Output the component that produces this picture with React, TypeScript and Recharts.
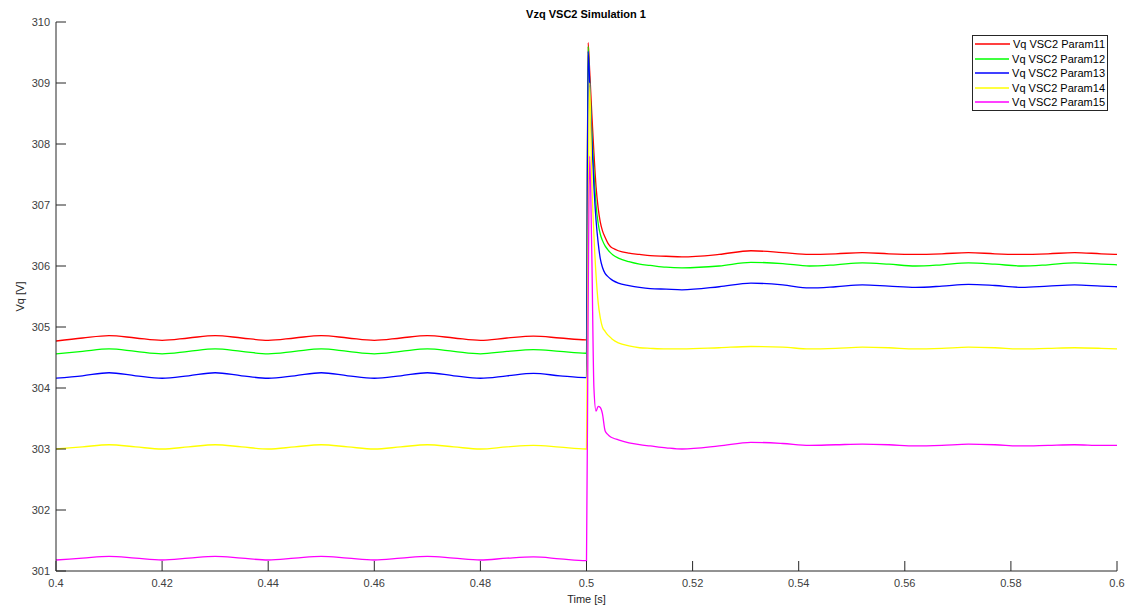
import { LineChart, Line, XAxis, YAxis, Legend } from 'recharts';

// time axis [s], dense around the 0.5 s step
const time = [
  0.4, 0.405, 0.41, 0.415, 0.42, 0.425, 0.43, 0.435, 0.44, 0.445, 0.45, 0.455, 0.46, 0.465, 0.47, 0.475, 0.48, 0.485, 0.49, 0.495, 0.4999,
  0.5, 0.5003, 0.5006, 0.501, 0.5014, 0.5018, 0.5022, 0.5026, 0.503, 0.5035, 0.504, 0.5045, 0.505, 0.506, 0.508, 0.51, 0.512, 0.515,
  0.518, 0.525, 0.531, 0.537, 0.542, 0.547, 0.552, 0.557, 0.562, 0.567, 0.572, 0.577, 0.582, 0.587, 0.592, 0.597, 0.6
];

const param11 = [
  304.77, 304.82, 304.86, 304.82, 304.78, 304.82, 304.86, 304.82, 304.78, 304.82, 304.86, 304.82, 304.78, 304.82, 304.86, 304.82, 304.78, 304.82, 304.85, 304.82, 304.79,
  304.8, 309.66, 309.2, 308.5, 307.85, 307.3, 306.95, 306.72, 306.58, 306.47, 306.38, 306.32, 306.29, 306.25, 306.21, 306.19, 306.17, 306.16,
  306.15, 306.19, 306.25, 306.22, 306.19, 306.2, 306.22, 306.2, 306.19, 306.2, 306.22, 306.2, 306.19, 306.2, 306.22, 306.2, 306.19
];

const param12 = [
  304.56, 304.6, 304.64, 304.6, 304.56, 304.6, 304.64, 304.6, 304.56, 304.6, 304.64, 304.6, 304.56, 304.6, 304.64, 304.6, 304.56, 304.6, 304.63, 304.6, 304.57,
  304.57, 309.6, 309.0, 308.2, 307.55, 307.0, 306.7, 306.52, 306.42, 306.33, 306.27, 306.22, 306.18, 306.13, 306.07, 306.03, 306.01, 305.98,
  305.97, 306.0, 306.06, 306.04, 306.0, 306.02, 306.05, 306.03, 306.0, 306.02, 306.05, 306.03, 306.0, 306.02, 306.05, 306.03, 306.02
];

const param13 = [
  304.16, 304.2, 304.25, 304.2, 304.16, 304.2, 304.25, 304.2, 304.16, 304.2, 304.25, 304.2, 304.16, 304.2, 304.25, 304.2, 304.16, 304.2, 304.24, 304.2, 304.17,
  304.17, 309.52, 309.0, 308.1, 307.3, 306.75, 306.38, 306.12, 305.98, 305.88, 305.83, 305.79, 305.76, 305.72, 305.68, 305.65, 305.63, 305.62,
  305.61, 305.66, 305.72, 305.69, 305.64, 305.66, 305.69, 305.67, 305.65, 305.67, 305.7, 305.68, 305.65, 305.67, 305.69, 305.67, 305.66
];

const param14 = [
  303.0, 303.035, 303.07, 303.035, 303.0, 303.035, 303.07, 303.035, 303.0, 303.035, 303.07, 303.035, 303.0, 303.035, 303.07, 303.035, 303.0, 303.035, 303.06, 303.03, 303.0,
  303.0, 306.5, 309.0, 307.4, 306.5, 305.85, 305.4, 305.15, 305.0, 304.93, 304.87, 304.83, 304.79, 304.74, 304.69, 304.66, 304.65, 304.64,
  304.64, 304.66, 304.68, 304.67, 304.64, 304.65, 304.67, 304.66, 304.64, 304.65, 304.67, 304.66, 304.64, 304.65, 304.66, 304.65, 304.64
];

const param15 = [
  301.18, 301.21, 301.24, 301.21, 301.18, 301.21, 301.24, 301.21, 301.18, 301.21, 301.24, 301.21, 301.18, 301.21, 301.24, 301.21, 301.18, 301.21, 301.23, 301.2, 301.17,
  301.17, 305.2, 307.8, 306.2, 304.0, 303.62, 303.7, 303.68, 303.58, 303.3, 303.24, 303.2, 303.18, 303.15, 303.1, 303.07, 303.05, 303.02,
  303.0, 303.05, 303.11, 303.09, 303.06, 303.07, 303.08, 303.07, 303.05, 303.06, 303.08, 303.07, 303.05, 303.06, 303.07, 303.06, 303.06
];

const xTicks = [0.4, 0.42, 0.44, 0.46, 0.48, 0.5, 0.52, 0.54, 0.56, 0.58, 0.6];
const yTicks = [301, 302, 303, 304, 305, 306, 307, 308, 309, 310];

const seriesNames = ['Vq VSC2 Param11', 'Vq VSC2 Param12', 'Vq VSC2 Param13', 'Vq VSC2 Param14', 'Vq VSC2 Param15'];
const seriesColors = ['#ff0000', '#00ff00', '#0000ff', '#ffff00', '#ff00ff'];

const data = time.map((t, i) => ({
  t,
  p11: param11[i],
  p12: param12[i],
  p13: param13[i],
  p14: param14[i],
  p15: param15[i]
}));

const AXIS = '#262626';

// MATLAB style ticks pointing into the plot
const YTick = ({ x, y, payload }: any) => (
  <g>
    <line x1={x} x2={x + 10} y1={y} y2={y} stroke={AXIS} strokeWidth={1} />
    <text x={x - 6} y={y} textAnchor="end" dominantBaseline="central" fontSize={11} fill="#404040">
      {payload.value}
    </text>
  </g>
);

const XTick = ({ x, y, payload }: any) => (
  <g>
    <line x1={x} x2={x} y1={y} y2={y - 10} stroke={AXIS} strokeWidth={1} />
    <text x={x} y={y + 16} textAnchor="middle" fontSize={11} fill="#404040">
      {String(Number(payload.value.toFixed(2)))}
    </text>
  </g>
);

const renderLegend = (props: any) => (
  <div
    style={{
      boxSizing: 'border-box',
      width: 136,
      height: 76,
      border: '1px solid #262626',
      background: '#fff',
      padding: '1px 2px',
      fontSize: 11,
      color: '#000'
    }}
  >
    {props.payload.map((entry: any) => (
      <div key={entry.value} style={{ display: 'flex', alignItems: 'center', height: 14.5 }}>
        <svg width={35} height={4}>
          <line x1={0} x2={35} y1={2} y2={2} stroke={entry.color} strokeWidth={1.5} />
        </svg>
        <span style={{ marginLeft: 3, whiteSpace: 'nowrap' }}>{entry.value}</span>
      </div>
    ))}
  </div>
);

export default function App() {
  const keys = ['p11', 'p12', 'p13', 'p14', 'p15'];
  return (
    <div
      style={{
        position: 'absolute',
        left: 0,
        top: 0,
        width: 1131,
        height: 612,
        background: '#fff',
        fontFamily: '"Liberation Sans", Arial, Helvetica, sans-serif'
      }}
    >
      <div
        style={{
          position: 'absolute',
          left: 386,
          top: 8,
          width: 400,
          textAlign: 'center',
          fontSize: 11,
          fontWeight: 'bold',
          color: '#000'
        }}
      >
        Vzq VSC2 Simulation 1
      </div>
      <LineChart width={1131} height={612} data={data} margin={{ top: 22, right: 14, bottom: 0, left: 0 }}>
        <XAxis
          dataKey="t"
          type="number"
          domain={[0.4, 0.6]}
          ticks={xTicks}
          allowDataOverflow
          height={41}
          tickSize={0}
          tickMargin={0}
          tick={<XTick />}
          axisLine={{ stroke: AXIS }}
          label={{ value: 'Time [s]', position: 'insideBottom', offset: 9, fontSize: 11, fill: '#262626' }}
        />
        <YAxis
          type="number"
          domain={[301, 310]}
          ticks={yTicks}
          allowDataOverflow
          width={56}
          tickSize={0}
          tickMargin={0}
          tick={<YTick />}
          axisLine={{ stroke: AXIS }}
          label={{
            value: 'Vq [V]',
            angle: -90,
            position: 'insideLeft',
            offset: 20,
            fontSize: 11,
            fill: '#262626',
            style: { textAnchor: 'middle' }
          }}
        />
        <Legend
          layout="vertical"
          align="center"
          verticalAlign="middle"
          content={renderLegend}
          wrapperStyle={{ top: 35, left: 972, width: 136, height: 76 }}
        />
        {keys.map((k, i) => (
          <Line
            key={k}
            type="monotone"
            dataKey={k}
            name={seriesNames[i]}
            stroke={seriesColors[i]}
            strokeWidth={1.3}
            dot={false}
            isAnimationActive={false}
          />
        ))}
      </LineChart>
    </div>
  );
}
